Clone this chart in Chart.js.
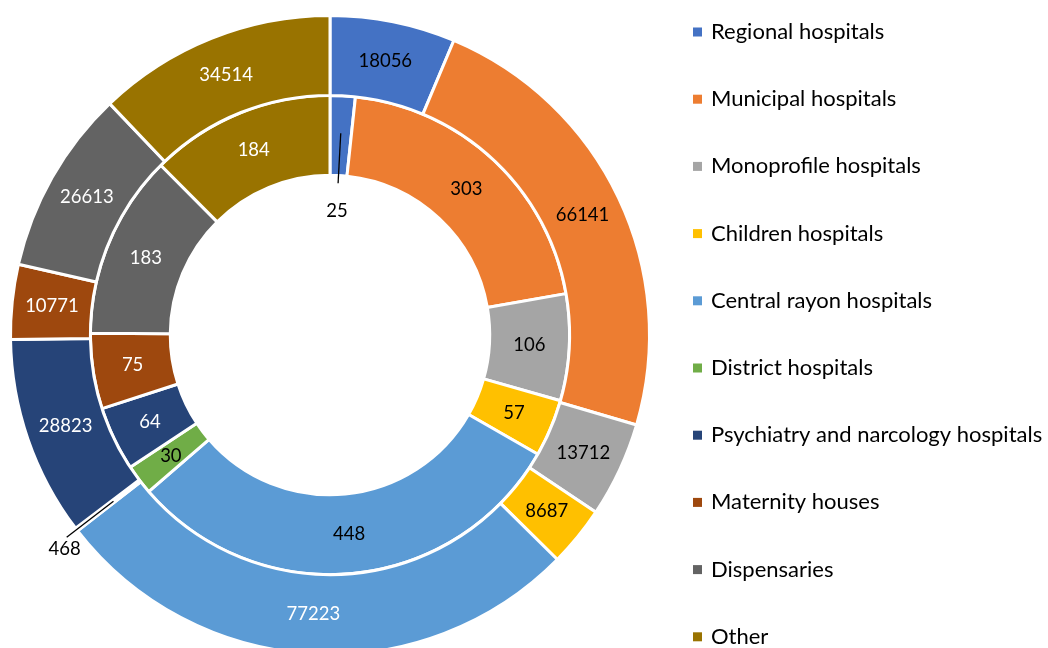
<!DOCTYPE html>
<html>
<head>
<meta charset="utf-8">
<script src="https://cdn.jsdelivr.net/npm/chart.js@4"></script>
<style>
html, body { margin: 0; padding: 0; background: #ffffff; overflow: hidden; width: 1048px; height: 648px; }
#wrap { position: absolute; left: 0; top: 0; width: 1048px; height: 656px; }
</style>
</head>
<body>
<div id="wrap"><canvas id="c" width="1048" height="656"></canvas></div>
<script>
const categories = [
  'Regional hospitals',
  'Municipal hospitals',
  'Monoprofile hospitals',
  'Children hospitals',
  'Central rayon hospitals',
  'District hospitals',
  'Psychiatry and narcology hospitals',
  'Maternity houses',
  'Dispensaries',
  'Other'
];
const bedsValues = [18056, 66141, 13712, 8687, 77223, 468, 28823, 10771, 26613, 34514];
const hospitalCounts = [25, 303, 106, 57, 448, 30, 64, 75, 183, 184];
const sliceColors = ['#4472C4', '#ED7D31', '#A5A5A5', '#FFC000', '#5B9BD5', '#70AD47', '#264478', '#9E480E', '#636363', '#997300'];

const FONT = 'Lato, "Open Sans", sans-serif';

// label text colours per ring
const outerLabelColors = ['#000', '#000', '#000', '#000', '#fff', '#000', '#fff', '#fff', '#fff', '#fff'];
const innerLabelColors = ['#000', '#000', '#000', '#000', '#000', '#000', '#fff', '#fff', '#fff', '#fff'];

// leader-line callouts for slices too thin for an inside label
const callouts = [
  { ds: 1, idx: 0, r1: 202, r2: 152, dx: -1, dy: 28 },
  { ds: 0, idx: 5, r1: 273, r2: 332, dx: -2, dy: 12 }
];

const labelPlugin = {
  id: 'sliceLabels',
  afterDatasetsDraw(chart) {
    const ctx = chart.ctx;
    ctx.save();
    ctx.font = '18.5px ' + FONT;
    ctx.textAlign = 'center';
    ctx.textBaseline = 'middle';
    chart.data.datasets.forEach((ds, di) => {
      const meta = chart.getDatasetMeta(di);
      meta.data.forEach((arc, i) => {
        const p = arc.getProps(['x', 'y', 'startAngle', 'endAngle', 'innerRadius', 'outerRadius'], true);
        const mid = (p.startAngle + p.endAngle) / 2;
        const text = String(ds.data[i]);
        const co = callouts.find(c => c.ds === di && c.idx === i);
        if (co) {
          const x1 = p.x + co.r1 * Math.cos(mid), y1 = p.y + co.r1 * Math.sin(mid);
          const x2 = p.x + co.r2 * Math.cos(mid), y2 = p.y + co.r2 * Math.sin(mid);
          ctx.strokeStyle = '#000';
          ctx.lineWidth = 1.3;
          ctx.beginPath();
          ctx.moveTo(x1, y1);
          ctx.lineTo(x2, y2);
          ctx.stroke();
          ctx.fillStyle = '#000';
          ctx.fillText(text, x2 + co.dx, y2 + co.dy);
        } else {
          const r = (p.innerRadius + p.outerRadius) / 2;
          ctx.fillStyle = ds.labelColors[i];
          ctx.fillText(text, p.x + r * Math.cos(mid), p.y + r * Math.sin(mid));
        }
      });
    });
    ctx.restore();
  }
};

const legendPlugin = {
  id: 'sideLegend',
  afterDraw(chart) {
    const ctx = chart.ctx;
    const opts = chart.options.plugins.sideLegend;
    ctx.save();
    ctx.font = opts.fontSize + 'px ' + FONT;
    ctx.textAlign = 'left';
    ctx.textBaseline = 'middle';
    chart.data.labels.forEach((lab, i) => {
      const cy = opts.top + i * opts.step;
      ctx.fillStyle = sliceColors[i];
      ctx.fillRect(opts.boxX, cy - opts.box / 2, opts.box, opts.box);
      ctx.fillStyle = '#000';
      ctx.fillText(lab, opts.textX, cy);
    });
    ctx.restore();
  }
};

new Chart(document.getElementById('c'), {
  type: 'doughnut',
  data: {
    labels: categories,
    datasets: [
      {
        label: 'Beds',
        data: bedsValues,
        backgroundColor: sliceColors,
        borderColor: '#ffffff',
        borderWidth: 3,
        hoverBorderWidth: 3,
        hoverOffset: 0,
        labelColors: outerLabelColors
      },
      {
        label: 'Hospitals',
        data: hospitalCounts,
        backgroundColor: sliceColors,
        borderColor: '#ffffff',
        borderWidth: 3,
        hoverBorderWidth: 3,
        hoverOffset: 0,
        labelColors: innerLabelColors
      }
    ]
  },
  options: {
    responsive: false,
    animation: false,
    cutout: '50%',
    layout: { padding: { left: 9, top: 14, right: 397, bottom: 0 } },
    plugins: {
      legend: { display: false },
      tooltip: { enabled: false },
      sideLegend: { boxX: 693, box: 9, textX: 711, top: 32, step: 67.2, fontSize: 22 }
    }
  },
  plugins: [labelPlugin, legendPlugin]
});
</script>
</body>
</html>
